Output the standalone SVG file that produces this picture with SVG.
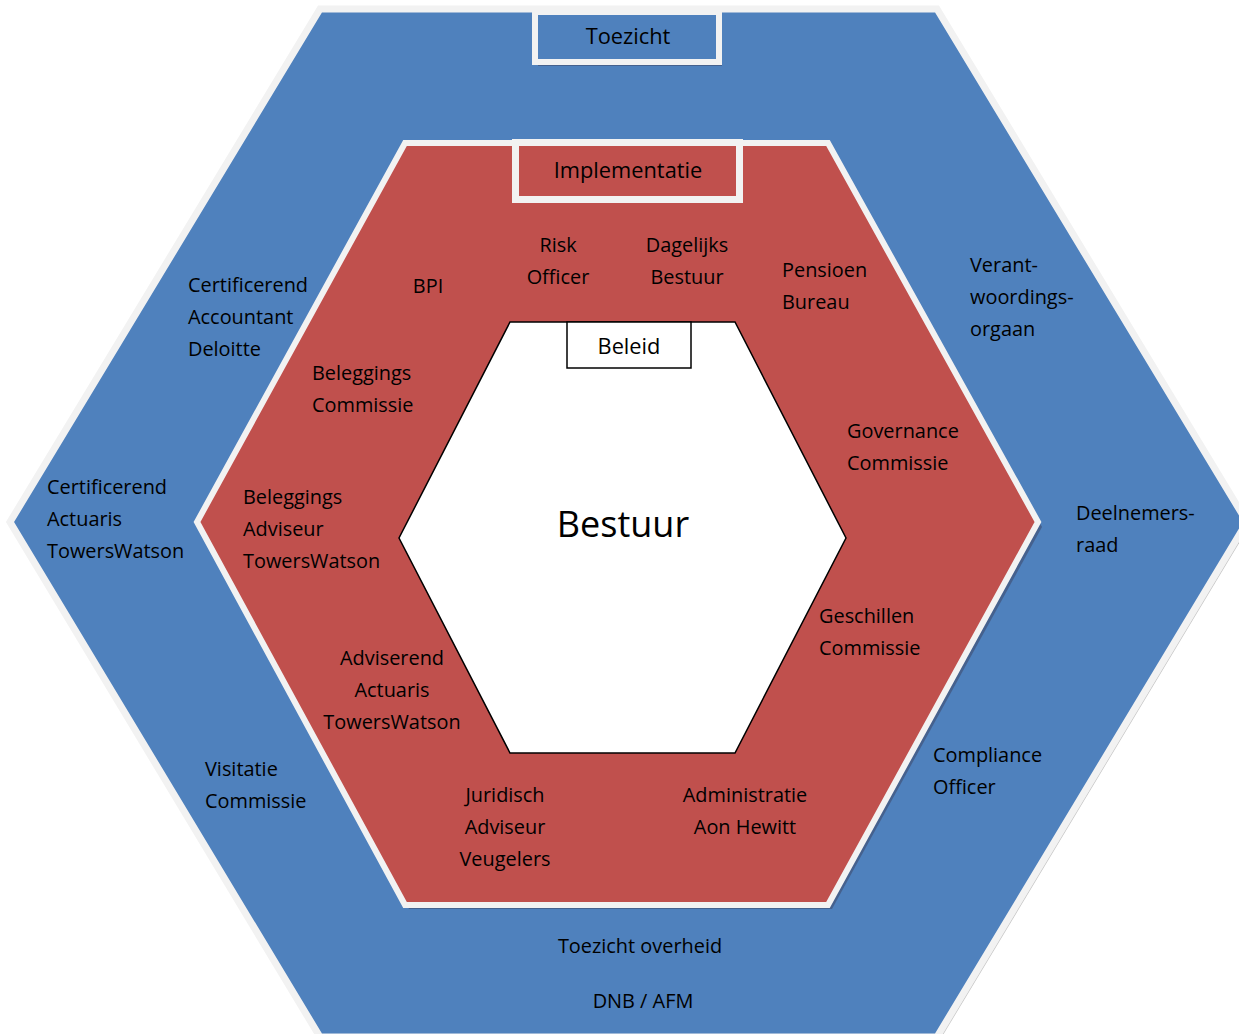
<svg xmlns="http://www.w3.org/2000/svg" width="1239" height="1034" viewBox="0 0 1239 1034">
<style>
text{font-family:"Open Sans","Liberation Sans",sans-serif;font-size:19.9px;fill:#000}
.c{text-anchor:middle}
.t{font-size:21.8px}
.big{font-size:36px}
.shadow{fill:#3a3a55;opacity:0.45}
.oshadow{fill:#9a9a9a;opacity:0.6}
</style>
<g id="outer-hexagon">
<polygon class="oshadow" points="323,12 940,12 1250,525 940,1040 323,1040 13,525"/>
<polygon points="320,9 937,9 1247,522 937,1037 320,1037 10,522" fill="#4F81BD" stroke="#F2F2F2" stroke-width="7"/>
</g>
<g id="toezicht">
<rect x="538" y="16" width="184" height="50" class="shadow"/>
<rect x="535" y="12" width="184" height="50" fill="#4F81BD" stroke="#F2F2F2" stroke-width="6"/>
<text class="c t" x="628" y="44">Toezicht</text>
</g>
<g id="implementatie-hexagon">
<polygon class="shadow" points="409,147 832,147 1042,527 832,909 409,909 201,527"/>
<polygon points="405,143 828,143 1038,522 828,905 405,905 197,522" fill="#C0504D" stroke="#F2F2F2" stroke-width="6"/>
</g>
<g id="implementatie">
<rect x="519" y="146" width="224" height="57" class="shadow"/>
<rect x="515.5" y="142.5" width="224" height="57" fill="#C0504D" stroke="#F2F2F2" stroke-width="7"/>
<text class="c t" x="628" y="178">Implementatie</text>
</g>
<g id="bestuur">
<polygon points="510,322 735,322 846,538 735,753 510,753 399,538" fill="#FFFFFF" stroke="#000" stroke-width="1.5"/>
<text class="c big" x="623" y="537">Bestuur</text>
</g>
<g id="beleid">
<rect x="567" y="322" width="124" height="46" fill="#FFFFFF" stroke="#000" stroke-width="1.5"/>
<text class="c t" x="629" y="354">Beleid</text>
</g>
<g id="risk-officer"><text class="c" x="558" y="252">Risk</text><text class="c" x="558" y="284">Officer</text></g>
<g id="dagelijks-bestuur"><text class="c" x="687" y="252">Dagelijks</text><text class="c" x="687" y="284">Bestuur</text></g>
<g id="bpi"><text class="c" x="428" y="293">BPI</text></g>
<g id="pensioen-bureau"><text x="782" y="277">Pensioen</text><text x="782" y="309">Bureau</text></g>
<g id="certificerend-accountant"><text x="188" y="292">Certificerend</text><text x="188" y="324">Accountant</text><text x="188" y="356">Deloitte</text></g>
<g id="verantwoordingsorgaan"><text x="970" y="272">Verant-</text><text x="970" y="304">woordings-</text><text x="970" y="336">orgaan</text></g>
<g id="beleggings-commissie"><text x="312" y="380">Beleggings</text><text x="312" y="412">Commissie</text></g>
<g id="governance-commissie"><text x="847" y="438">Governance</text><text x="847" y="470">Commissie</text></g>
<g id="certificerend-actuaris"><text x="47" y="494">Certificerend</text><text x="47" y="526">Actuaris</text><text x="47" y="558">TowersWatson</text></g>
<g id="beleggings-adviseur"><text x="243" y="504">Beleggings</text><text x="243" y="536">Adviseur</text><text x="243" y="568">TowersWatson</text></g>
<g id="deelnemersraad"><text x="1076" y="520">Deelnemers-</text><text x="1076" y="552">raad</text></g>
<g id="geschillen-commissie"><text x="819" y="623">Geschillen</text><text x="819" y="655">Commissie</text></g>
<g id="adviserend-actuaris"><text class="c" x="392" y="665">Adviserend</text><text class="c" x="392" y="697">Actuaris</text><text class="c" x="392" y="729">TowersWatson</text></g>
<g id="visitatie-commissie"><text x="205" y="776">Visitatie</text><text x="205" y="808">Commissie</text></g>
<g id="compliance-officer"><text x="933" y="762">Compliance</text><text x="933" y="794">Officer</text></g>
<g id="juridisch-adviseur"><text class="c" x="505" y="802">Juridisch</text><text class="c" x="505" y="834">Adviseur</text><text class="c" x="505" y="866">Veugelers</text></g>
<g id="administratie"><text class="c" x="745" y="802">Administratie</text><text class="c" x="745" y="834">Aon Hewitt</text></g>
<g id="toezicht-overheid"><text class="c" x="640" y="953">Toezicht overheid</text><text class="c" x="643" y="1008">DNB / AFM</text></g>
<g id="connectors"></g>
</svg>
